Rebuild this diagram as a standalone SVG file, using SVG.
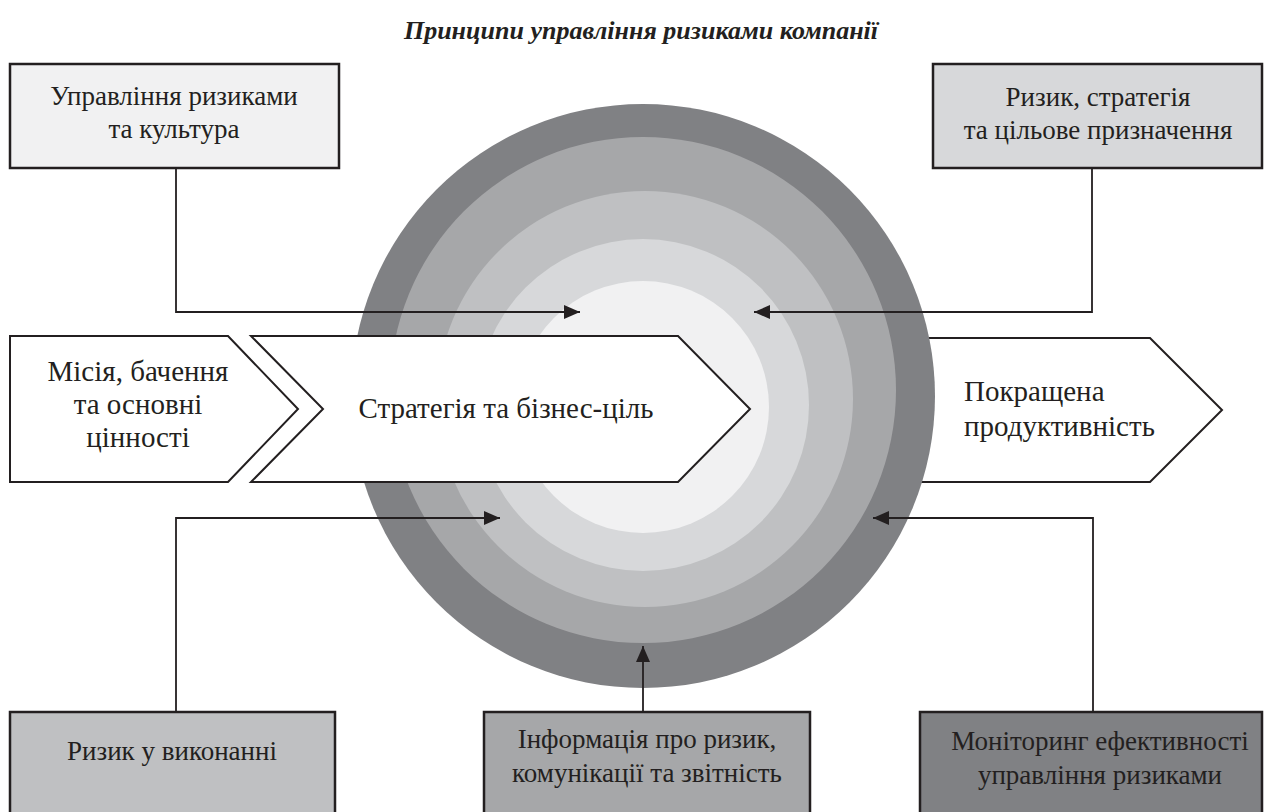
<svg xmlns="http://www.w3.org/2000/svg" width="1271" height="812" viewBox="0 0 1271 812">
<style>
.box{stroke:#231f20;stroke-width:2.5}
.chev{fill:#ffffff;stroke:#231f20;stroke-width:2}
.t{font-family:'Liberation Serif','Times New Roman',serif;font-size:27px;fill:#231f20}
.big{font-size:29px}
.c{text-anchor:middle}
.title{font-family:'Liberation Serif','Times New Roman',serif;font-size:26px;font-weight:bold;font-style:italic;fill:#231f20;text-anchor:middle}
.conn{fill:none;stroke:#231f20;stroke-width:1.8}
</style>
<defs>
<marker id="arr" viewBox="0 0 16 14" refX="16" refY="7" markerWidth="16" markerHeight="14" markerUnits="userSpaceOnUse" orient="auto">
<path d="M0,0 L16,7 L0,14 Z" fill="#231f20"/>
</marker>
</defs>
<rect width="1271" height="812" fill="#ffffff"/>
<text class="title" x="641" y="39">Принципи управління ризиками компанії</text>

<g id="right-chevron">
<polygon class="chev" points="900,338 1150,338 1222,410 1150,482 900,482"/>
<text class="t big" x="964" y="401">Покращена</text>
<text class="t big" x="964" y="436">продуктивність</text>
</g>

<g id="rings">
<circle cx="643" cy="396" r="292" fill="#808184"/>
<circle cx="643" cy="390" r="253" fill="#a6a7a9"/>
<circle cx="645" cy="399" r="208" fill="#bfc0c2"/>
<circle cx="643" cy="405" r="166" fill="#d7d8da"/>
<circle cx="643" cy="407" r="126" fill="#f1f1f2"/>
</g>

<g id="mission">
<polygon class="chev" points="10,336 228,336 298,409 228,482 10,482"/>
<text class="t big c" x="138" y="381">Місія, бачення</text>
<text class="t big c" x="138" y="414">та основні</text>
<text class="t big c" x="138" y="447">цінності</text>
</g>

<g id="strategy">
<polygon class="chev" points="251,336 678,336 750,409 678,482 251,482 323,409"/>
<text class="t big c" x="506" y="418">Стратегія та бізнес-ціль</text>
</g>

<g id="risk-culture">
<rect class="box" x="10" y="64" width="329" height="104" fill="#f1f1f2"/>
<text class="t c" x="174" y="105">Управління ризиками</text>
<text class="t c" x="174" y="138">та культура</text>
</g>

<g id="risk-strategy">
<rect class="box" x="933" y="64" width="329" height="104" fill="#d7d8da"/>
<text class="t c" x="1098" y="106">Ризик, стратегія</text>
<text class="t c" x="1098" y="139">та цільове призначення</text>
</g>

<g id="risk-execution">
<rect class="box" x="10" y="712" width="325" height="120" fill="#bfc0c2"/>
<text class="t c" x="172" y="760">Ризик у виконанні</text>
</g>

<g id="risk-info">
<rect class="box" x="484" y="712" width="326" height="120" fill="#a6a7a9"/>
<text class="t c" x="647" y="748">Інформація про ризик,</text>
<text class="t c" x="647" y="782">комунікації та звітність</text>
</g>

<g id="monitoring">
<rect class="box" x="920" y="712" width="342" height="120" fill="#808184"/>
<text class="t c" x="1100" y="750">Моніторинг ефективності</text>
<text class="t c" x="1100" y="784">управління ризиками</text>
</g>

<g id="connectors">
<polyline class="conn" points="176,168 176,312 580,312" marker-end="url(#arr)"/>
<polyline class="conn" points="1092,168 1092,312 754,312" marker-end="url(#arr)"/>
<polyline class="conn" points="176,712 176,518 500,518" marker-end="url(#arr)"/>
<polyline class="conn" points="1093,712 1093,518 873,518" marker-end="url(#arr)"/>
<polyline class="conn" points="643,712 643,646" marker-end="url(#arr)"/>
</g>
</svg>
